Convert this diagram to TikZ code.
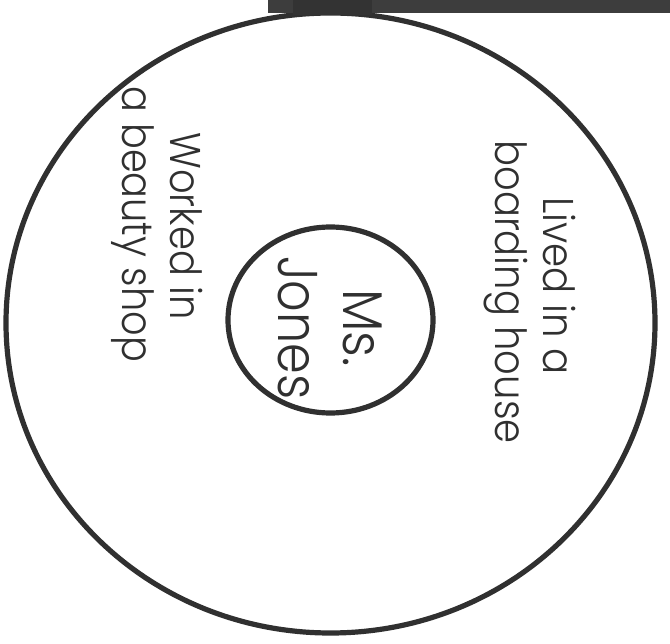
\documentclass[tikz,border=0pt]{standalone}
\usepackage{fontspec}
\usepackage{graphicx}
\setmainfont{Poppins}[UprightFont=* Light]
\usetikzlibrary{shapes.geometric}
\definecolor{ink}{HTML}{303030}
\definecolor{barc}{HTML}{3D3D3D}
\definecolor{bardark}{HTML}{333333}
\newcommand{\narrow}[2]{\scalebox{#1}[1]{#2}}
\tikzset{
  ring/.style={ellipse, draw=ink, line width=5.2pt, inner sep=0pt},
  lbl/.style={rotate=-90, anchor=base, inner sep=0pt, text=ink, font=\fontsize{43}{48}\selectfont},
  big/.style={rotate=-90, anchor=base, inner sep=0pt, text=ink, font=\fontsize{56}{60}\selectfont}
}
\begin{document}
\begin{tikzpicture}[x=1pt, y=-1pt]
\useasboundingbox (0,0) rectangle (670,644);
\node[ring, minimum width=649pt, minimum height=620pt] (outer) at (330.5,323) {};
\node[ring, minimum width=205pt, minimum height=186pt] (inner) at (330.5,320) {};
\fill[barc] (268,0) rectangle (670,13.5);
\fill[bardark] (293,0) rectangle (372,15);
\node[lbl] (lived1) at (543,286) {\narrow{0.9}{Lived in a}};
\node[lbl] (lived2) at (495,292) {\narrow{0.895}{boarding house}};
\node[lbl] (worked1) at (170,226) {\narrow{0.895}{Worked in}};
\node[lbl] (worked2) at (122,224.5) {\narrow{0.89}{a beauty shop}};
\node[big] (ms) at (343,328) {\narrow{0.9}{Ms.}};
\node[big] (jones) at (278,328) {\narrow{0.88}{Jones}};
\end{tikzpicture}
\end{document}
